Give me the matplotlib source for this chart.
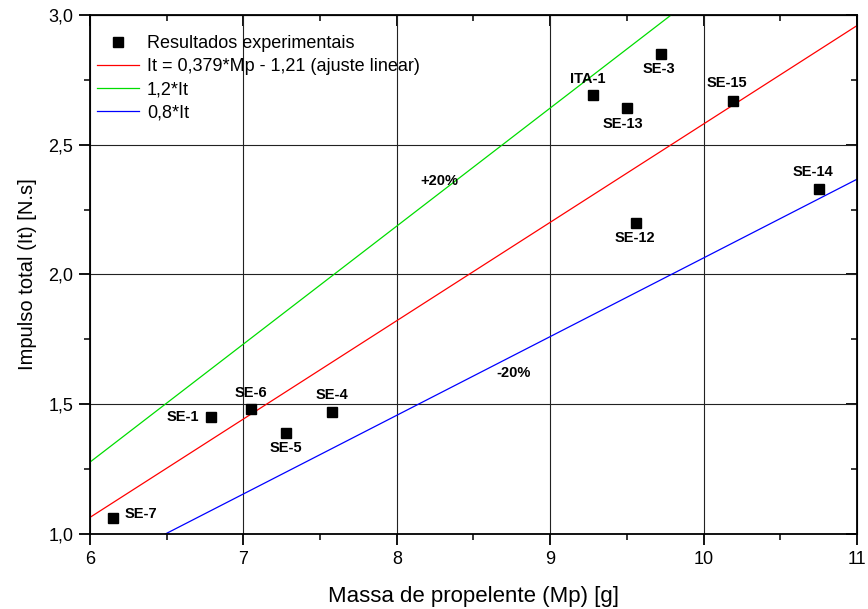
import matplotlib
matplotlib.use("Agg")
import matplotlib.pyplot as plt
from matplotlib.ticker import FuncFormatter, MultipleLocator

plt.rcParams['font.family'] = ['Liberation Sans', 'DejaVu Sans']

# experimental points
names = ["SE-7", "SE-1", "SE-6", "SE-5", "SE-4", "ITA-1", "SE-13", "SE-3",
         "SE-12", "SE-15", "SE-14"]
mp = [6.15, 6.79, 7.05, 7.28, 7.58, 9.28, 9.50, 9.72, 9.56, 10.19, 10.75]
it = [1.06, 1.45, 1.48, 1.39, 1.47, 2.69, 2.64, 2.85, 2.20, 2.67, 2.33]

# lines (end points)
line_x = [6.0, 11.0]
fit_y = [1.064, 2.959]
up_y = [1.277, 3.551]
low_y = [0.851, 2.367]

# label offsets (points) and alignment
offsets = {
    "SE-7": (8, 3, "left", "center"),
    "SE-1": (-9, 0, "right", "center"),
    "SE-6": (0, 7, "center", "bottom"),
    "SE-5": (0, -6, "center", "top"),
    "SE-4": (0, 7, "center", "bottom"),
    "ITA-1": (-4, 7, "center", "bottom"),
    "SE-13": (-3, -6, "center", "top"),
    "SE-3": (-1, -6, "center", "top"),
    "SE-12": (-1, -6, "center", "top"),
    "SE-15": (-4, 8, "center", "bottom"),
    "SE-14": (-4, 7, "center", "bottom"),
}

fig = plt.figure(figsize=(8.68, 6.09), dpi=100)
ax = fig.add_axes([0.1037, 0.1232, 0.8836, 0.8522])

ax.plot(mp, it, linestyle="none", marker="s", markersize=7, color="black",
        label="Resultados experimentais", zorder=5)
ax.plot(line_x, fit_y, color="red", linewidth=0.9,
        label="It = 0,379*Mp - 1,21 (ajuste linear)")
ax.plot(line_x, up_y, color="#00dd00", linewidth=0.9, label="1,2*It")
ax.plot(line_x, low_y, color="blue", linewidth=0.9, label="0,8*It")

for n, x, y in zip(names, mp, it):
    dx, dy, ha, va = offsets[n]
    ax.annotate(n, (x, y), xytext=(dx, dy), textcoords="offset points",
                ha=ha, va=va, fontsize=10.5, fontweight="bold")

ax.text(8.28, 2.36, "+20%", fontsize=10.5, fontweight="bold", ha="center", va="center")
ax.text(8.76, 1.62, "-20%", fontsize=10.5, fontweight="bold", ha="center", va="center")

ax.set_xlim(6, 11)
ax.set_ylim(1.0, 3.0)
ax.xaxis.set_major_locator(MultipleLocator(1))
ax.xaxis.set_minor_locator(MultipleLocator(0.5))
ax.yaxis.set_major_locator(MultipleLocator(0.5))
ax.yaxis.set_minor_locator(MultipleLocator(0.25))
ax.yaxis.set_major_formatter(FuncFormatter(lambda v, p: ("%.1f" % v).replace(".", ",")))
ax.grid(True, which="major", color="#222222", linewidth=0.8)

ax.tick_params(which="both", direction="out", top=False, right=False, labelsize=13)
ax.tick_params(which="major", length=8, width=1.3, pad=4)
ax.tick_params(which="minor", length=4, width=1.1)
for side in ["left", "bottom", "top", "right"]:
    ax.spines[side].set_linewidth(1.3)
# inner ticks on top and right
ax2 = ax.secondary_xaxis("top")
ax2.xaxis.set_major_locator(MultipleLocator(1))
ax2.xaxis.set_minor_locator(MultipleLocator(0.5))
ax2.tick_params(which="both", direction="in", labeltop=False)
ax2.tick_params(which="major", length=8, width=1.3)
ax2.tick_params(which="minor", length=4, width=1.1)
ax3 = ax.secondary_yaxis("right")
ax3.yaxis.set_major_locator(MultipleLocator(0.5))
ax3.yaxis.set_minor_locator(MultipleLocator(0.25))
ax3.tick_params(which="both", direction="in", labelright=False)
ax3.tick_params(which="major", length=8, width=1.3)
ax3.tick_params(which="minor", length=4, width=1.1)

ax.set_xlabel("Massa de propelente (Mp) [g]", fontsize=16, labelpad=13)
ax.set_ylabel("Impulso total (It) [N.s]", fontsize=14.5, labelpad=8)

ax.legend(loc="upper left", bbox_to_anchor=(0, 0.975), frameon=False,
          fontsize=13, handlelength=2.3, handletextpad=0.45, labelspacing=0.33,
          borderaxespad=0, borderpad=0.4)

plt.savefig("out.png", dpi=100)
